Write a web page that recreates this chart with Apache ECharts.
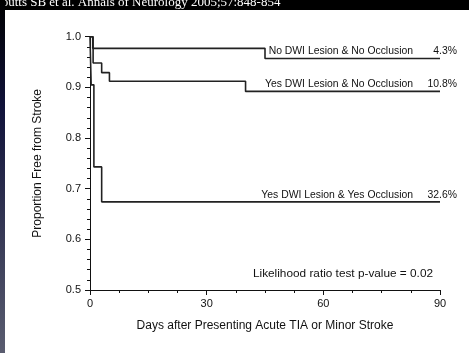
<!DOCTYPE html>
<html>
<head>
<meta charset="utf-8">
<script src="https://cdn.jsdelivr.net/npm/echarts@6/dist/echarts.min.js"></script>
<style>
  html, body { margin: 0; padding: 0; background: #000; }
  #chart { width: 469px; height: 353px; }
</style>
</head>
<body>
<div id="chart"></div>
<script>
// Kaplan-Meier step data: [day, proportion free from stroke]
const noDwiNoOcc = [[0, 1.0], [0.7, 0.977], [45, 0.957], [90, 0.957]];
const yesDwiNoOcc = [[0, 1.0], [0.8, 0.948], [3, 0.929], [5, 0.912], [40, 0.892], [90, 0.892]];
const yesDwiYesOcc = [[0, 1.0], [0.3, 0.905], [1, 0.743], [3, 0.674], [90, 0.674]];

const seriesNames = [
  'No DWI Lesion & No Occlusion',
  'Yes DWI Lesion & No Occlusion',
  'Yes DWI Lesion & Yes Occlusion',
];
const seriesPercents = ['4.3%', '10.8%', '32.6%'];
const seriesData = [noDwiNoOcc, yesDwiNoOcc, yesDwiYesOcc];

const xTicks = [0, 30, 60, 90];

const font = 'Liberation Sans, Arial, Helvetica, sans-serif';

const chart = echarts.init(document.getElementById('chart'));

const option = {
  backgroundColor: '#000',
  animation: false,
  graphic: [
    {
      type: 'text',
      x: -7,
      y: 2.5,
      z: -20,
      style: {
        text: 'Coutts SB et al. Annals of Neurology 2005;57:848-854',
        fill: '#fff',
        font: '13px "Liberation Serif", "Times New Roman", serif',
        verticalAlign: 'middle',
      },
    },
    {
      type: 'rect',
      shape: { x: 0, y: 0, width: 5, height: 353 },
      style: {
        fill: new echarts.graphic.LinearGradient(0, 0, 0, 1, [
          { offset: 0, color: '#000000' },
          { offset: 0.3, color: '#10123a' },
          { offset: 1, color: '#5a5d70' },
        ]),
      },
      z: -10,
    },
    {
      type: 'rect',
      shape: { x: 5, y: 10, width: 464, height: 343 },
      style: { fill: '#ffffff' },
      z: -10,
    },
    {
      type: 'text',
      right: 36,
      top: 268,
      style: {
        text: 'Likelihood ratio test p-value = 0.02',
        fill: '#111',
        font: '11.8px ' + font,
      },
    },
  ],
  grid: {
    left: 90,
    top: 36.7,
    right: 29,
    bottom: 63,
  },
  xAxis: {
    type: 'value',
    min: 0,
    max: 90,
    interval: 30,
    name: 'Days after Presenting Acute TIA or Minor Stroke',
    nameLocation: 'middle',
    nameGap: 30,
    nameTextStyle: { color: '#111', fontSize: 12, fontFamily: font },
    axisLine: { lineStyle: { color: '#111', width: 1 } },
    axisTick: { length: 5, lineStyle: { color: '#111' } },
    minorTick: { show: true, splitNumber: 4, length: 3, lineStyle: { color: '#111' } },
    axisLabel: {
      color: '#111',
      fontSize: 11,
      fontFamily: font,
      margin: 8,
      customValues: xTicks,
    },
    splitLine: { show: false },
  },
  yAxis: {
    type: 'value',
    min: 0.5,
    max: 1.0,
    interval: 0.1,
    name: 'Proportion Free from Stroke',
    nameLocation: 'middle',
    nameRotate: 90,
    nameGap: 46,
    nameTextStyle: { color: '#111', fontSize: 12, fontFamily: font },
    axisLine: { show: true, lineStyle: { color: '#111', width: 1 } },
    axisTick: { show: true, length: 5, lineStyle: { color: '#111' } },
    minorTick: { show: true, splitNumber: 5, length: 3, lineStyle: { color: '#111' } },
    axisLabel: {
      color: '#111',
      fontSize: 11,
      fontFamily: font,
      margin: 9,
      formatter: v => v.toFixed(1),
    },
    splitLine: { show: false },
  },
  series: seriesData.map((data, i) => {
    const last = data[data.length - 1];
    const labelStyle = {
      show: true,
      position: 'left',
      distance: 5,
      color: '#111',
      fontSize: 10.4,
      fontFamily: font,
    };
    return {
      name: seriesNames[i],
      type: 'line',
      step: 'end',
      data: data,
      showSymbol: false,
      lineStyle: { color: '#222', width: 1.6 },
      markPoint: {
        symbol: 'circle',
        symbolSize: 0,
        silent: true,
        data: [
          {
            coord: last,
            label: Object.assign({}, labelStyle, {
              offset: [-22, -7],
              formatter: seriesNames[i],
            }),
          },
          {
            coord: last,
            label: Object.assign({}, labelStyle, {
              offset: [22, -7],
              formatter: seriesPercents[i],
            }),
          },
        ],
      },
    };
  }),
};

chart.setOption(option);
</script>
</body>
</html>
